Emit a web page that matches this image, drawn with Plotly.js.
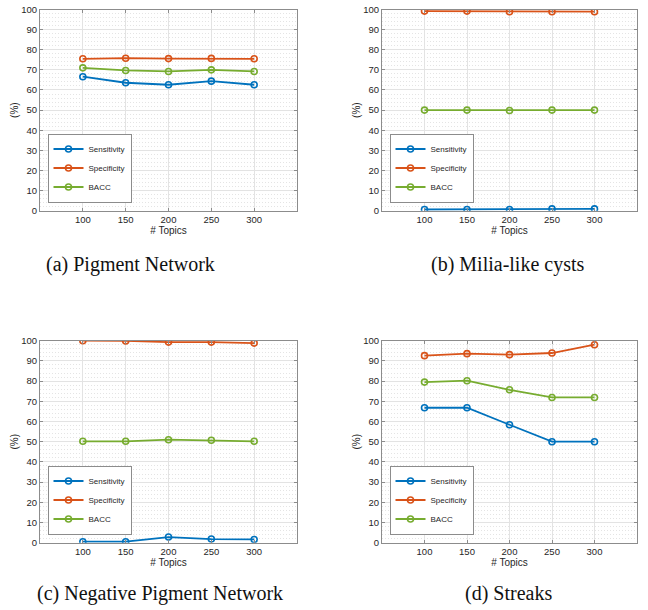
<!DOCTYPE html>
<html>
<head>
<meta charset="utf-8">
<script src="https://cdn.plot.ly/plotly-3.0.1.min.js"></script>
<style>html,body{margin:0;padding:0;background:#fff;}#chart{width:648px;height:610px;}</style>
</head>
<body>
<div id="chart"></div>
<script>
// ---- data ----
const topics = [100, 150, 200, 250, 300];
const seriesNames = ['Sensitivity', 'Specificity', 'BACC'];
const captions = ['(a) Pigment Network', '(b) Milia-like cysts', '(c) Negative Pigment Network', '(d) Streaks'];

// (a) Pigment Network
const pnSens = [66.6, 63.6, 62.6, 64.4, 62.6];
const pnSpec = [75.5, 75.8, 75.6, 75.7, 75.5];
const pnBacc = [71.0, 69.7, 69.2, 70.0, 69.2];
// (b) Milia-like cysts
const mlSens = [0.6, 0.6, 0.6, 0.9, 0.9];
const mlSpec = [99.2, 99.2, 98.9, 98.9, 98.9];
const mlBacc = [50.0, 50.0, 49.8, 50.0, 50.0];
// (c) Negative Pigment Network
const npSens = [0.5, 0.5, 2.8, 1.8, 1.6];
const npSpec = [100.0, 99.9, 99.3, 99.3, 98.8];
const npBacc = [50.2, 50.2, 51.0, 50.7, 50.2];
// (d) Streaks
const stSens = [66.8, 66.8, 58.4, 50.0, 50.0];
const stSpec = [92.6, 93.6, 93.1, 93.9, 98.0];
const stBacc = [79.5, 80.2, 75.7, 71.9, 71.9];

const panels = [
  [pnSens, pnSpec, pnBacc],
  [mlSens, mlSpec, mlBacc],
  [npSens, npSpec, npBacc],
  [stSens, stSpec, stBacc]
];

// ---- styling ----
const colors = ['#0072BD', '#D95319', '#77AC30'];
const W = 648, H = 610;
const xDomains = [[40 / W, 297 / W], [382 / W, 637 / W]];
const yDomains = [[1 - 210.7 / H, 1 - 9.5 / H], [1 - 542.7 / H, 1 - 340.7 / H]];
const tickFont = {family: 'Liberation Sans, Arial, sans-serif', size: 9.5, color: '#262626'};
const legendNames = ['legend', 'legend2', 'legend3', 'legend4'];

const traces = [];
panels.forEach((p, i) => {
  const ax = i === 0 ? '' : String(i + 1);
  p.forEach((vals, s) => {
    traces.push({
      x: topics, y: vals, name: seriesNames[s],
      type: 'scatter', mode: 'lines+markers',
      xaxis: 'x' + ax, yaxis: 'y' + ax,
      legend: legendNames[i],
      line: {color: colors[s], width: 1.8},
      marker: {symbol: 'circle-open', size: 6, color: colors[s], line: {width: 1.6, color: colors[s]}}
    });
  });
});

const layout = {
  width: W, height: H,
  margin: {l: 0, r: 0, t: 0, b: 0},
  paper_bgcolor: '#ffffff', plot_bgcolor: '#ffffff',
  font: {family: 'Liberation Sans, Arial, sans-serif', color: '#262626'},
  annotations: [],
  showlegend: true
};

const captionPos = [[130, 265], [508, 265], [160, 593], [508, 593]];

for (let i = 0; i < 4; i++) {
  const col = i % 2, row = Math.floor(i / 2);
  const ax = i === 0 ? '' : String(i + 1);
  const ya = 'y' + ax, xa = 'x' + ax;
  layout['xaxis' + ax] = {
    domain: xDomains[col], anchor: ya,
    range: [50, 350], tickvals: topics, ticktext: topics.map(String),
    showgrid: true, gridcolor: '#e3e3e3', gridwidth: 1,
    zeroline: false, showline: true, linecolor: '#8c8c8c', linewidth: 1, mirror: 'ticks',
    ticks: 'inside', ticklen: 3, tickcolor: '#8c8c8c',
    tickfont: tickFont,
    title: {text: '# Topics', font: {family: tickFont.family, size: 10, color: '#262626'}, standoff: 2},
    fixedrange: true
  };
  layout['yaxis' + ax] = {
    domain: yDomains[row], anchor: xa,
    range: [0, 100], dtick: 10, tick0: 0,
    showgrid: true, gridcolor: '#e3e3e3', gridwidth: 1,
    minor: {dtick: 2, showgrid: true, gridcolor: '#e4e4e4', griddash: '1px,2px', gridwidth: 1},
    zeroline: false, showline: true, linecolor: '#8c8c8c', linewidth: 1, mirror: 'ticks',
    ticks: 'inside', ticklen: 3, tickcolor: '#8c8c8c',
    tickfont: tickFont,
    title: {text: '(%)', font: {family: tickFont.family, size: 10, color: '#262626'}, standoff: 0},
    fixedrange: true
  };
  layout[legendNames[i]] = {
    x: (xDomains[col][0] * W + 7.5) / W, y: 1 - (row === 0 ? 202.5 : 534.5) / H,
    xanchor: 'left', yanchor: 'bottom', xref: 'paper', yref: 'paper',
    bgcolor: '#ffffff', bordercolor: '#8c8c8c', borderwidth: 1,
    font: {family: tickFont.family, size: 8, color: '#262626'},
    itemwidth: 30, tracegroupgap: 0
  };
  layout.annotations.push({
    text: captions[i], xref: 'paper', yref: 'paper',
    x: captionPos[i][0] / W, y: 1 - captionPos[i][1] / H,
    xanchor: 'center', yanchor: 'middle', showarrow: false,
    font: {family: 'Liberation Serif, Times New Roman, serif', size: 20, color: '#111111'}
  });
}

Plotly.newPlot('chart', traces, layout, {displayModeBar: false, staticPlot: true});
</script>
</body>
</html>
